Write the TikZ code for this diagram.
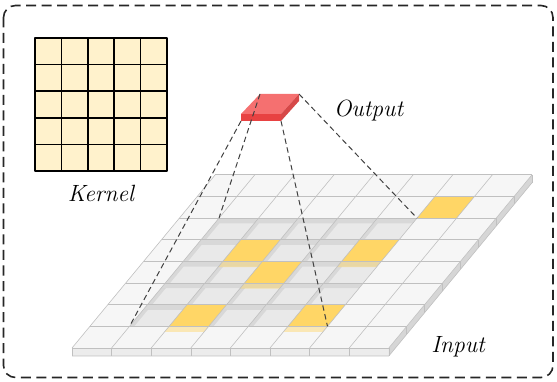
\documentclass[tikz,border=0pt]{standalone}
\usetikzlibrary{calc}
\definecolor{kfill}{RGB}{255,242,204}
\definecolor{cellfill}{RGB}{246,246,246}
\definecolor{gridline}{RGB}{192,192,192}
\definecolor{facefront}{RGB}{236,236,236}
\definecolor{faceside}{RGB}{214,214,214}
\definecolor{yel}{RGB}{255,214,102}
\definecolor{redtop}{RGB}{245,112,112}
\definecolor{redfront}{RGB}{232,66,66}
\definecolor{redside}{RGB}{214,72,72}
\begin{document}
\begin{tikzpicture}[x=1pt,y=-1pt,line join=round]
\tikzset{
  frame/.style={draw=black!85,line width=1.6pt,dash pattern=on 10pt off 5.5pt,rounded corners=12pt},
  kcell/.style={draw=black,line width=1.6pt,fill=kfill},
  klines/.style={draw=black,line width=1.6pt},
  lbl/.style={font=\fontsize{23.5}{23.5}\selectfont\itshape,inner sep=0pt,anchor=base},
  conn/.style={draw=black!75,line width=1pt,dash pattern=on 5.5pt off 3.5pt},
  gline/.style={draw=gridline,line width=0.6pt},
  regcell/.style={fill=black,fill opacity=0.05},
  regstrip/.style={fill=black,fill opacity=0.07},
  yelcell/.style={fill=yel},
  yelstrip/.style={fill=yel,fill opacity=0.45},
}
\useasboundingbox (0,0) rectangle (557,382);
% outer frame
\draw[frame] (3.5,5.5) rectangle (553,377.5);
% kernel
\filldraw[kcell] (35,38) rectangle (167,171);
\foreach \k in {1,...,4}{
  \draw[klines] (35+26.4*\k,38) -- (35+26.4*\k,171);
  \draw[klines] (35,38+26.6*\k) -- (167,38+26.6*\k);
}
\node[lbl] (kernellbl) at (101,201.5) {Kernel};
% input grid
\begin{scope}[shift={(72,348)},x={(39.6pt,0pt)},y={(17.9pt,21.65pt)}]
  \fill[facefront] (0,0) -- (8,0) -- ([yshift=-8pt]8,0) -- ([yshift=-8pt]0,0) -- cycle;
  \fill[faceside] (8,0) -- (8,8) -- ([yshift=-8pt]8,8) -- ([yshift=-8pt]8,0) -- cycle;
  \fill[cellfill] (0,0) -- (8,0) -- (8,8) -- (0,8) -- cycle;
  % region 5x5
  \foreach \i in {1,...,5}{
    \foreach \j in {1,...,5}{
      \fill[regcell] (\i,\j) -- (\i+1,\j) -- (\i+1,\j+1) -- (\i,\j+1) -- cycle;
      \fill[regstrip] (\i,\j+1) -- (\i+1,\j+1) -- (\i+1,\j+0.76) -- (\i,\j+0.76) -- cycle;
      \fill[regstrip] (\i,\j) -- (\i+0.12,\j) -- (\i+0.12,\j+0.76) -- (\i,\j+0.76) -- cycle;
    }
  }
  % yellow cells
  \foreach \i/\j in {2/4,5/4,3/3,2/1,5/1}{
    \fill[yelcell] (\i,\j) -- (\i+1,\j) -- (\i+1,\j+1) -- (\i,\j+1) -- cycle;
    \fill[yelstrip] (\i,\j) -- (\i+1,\j) -- (\i+1,\j-0.26) -- (\i,\j-0.26) -- cycle;
  }
  \fill[yelcell] (6,6) -- (7,6) -- (7,7) -- (6,7) -- cycle;
  % grid lines
  \foreach \k in {0,...,8}{
    \draw[gline] (\k,0) -- (\k,8);
    \draw[gline] (0,\k) -- (8,\k);
  }
  \foreach \k in {0,...,8}{
    \draw[gline] (\k,0) -- ([yshift=-8pt]\k,0);
    \draw[gline] (8,\k) -- ([yshift=-8pt]8,\k);
  }
  \draw[gline] ([yshift=-8pt]0,0) -- ([yshift=-8pt]8,0) -- ([yshift=-8pt]8,8);
  \coordinate (rBL) at (1,1);
  \coordinate (rBR) at (6,1);
  \coordinate (rTL) at (1,6);
  \coordinate (rTR) at (6,6);
\end{scope}
\node[lbl] (inlbl) at (458,352) {Input};
% output block
\coordinate (oTL) at (260,94);
\coordinate (oTR) at (299,94);
\coordinate (oBL) at (241,121);
\coordinate (oBR) at (281,121);
\fill[redtop] (260,94) -- (299,94) -- (281,114) -- (241,114) -- cycle;
\fill[redfront] (241,114) -- (281,114) -- (281,121) -- (241,121) -- cycle;
\fill[redside] (281,114) -- (299,94) -- (299,101) -- (281,121) -- cycle;
\node[lbl] (outlbl) at (368.5,116.5) {Output};
% connectors
\draw[conn] (oTL) -- (rTL);
\draw[conn] (oBL) -- (rBL);
\draw[conn] (oBR) -- (rBR);
\draw[conn] (oTR) -- (rTR);
\end{tikzpicture}
\end{document}
